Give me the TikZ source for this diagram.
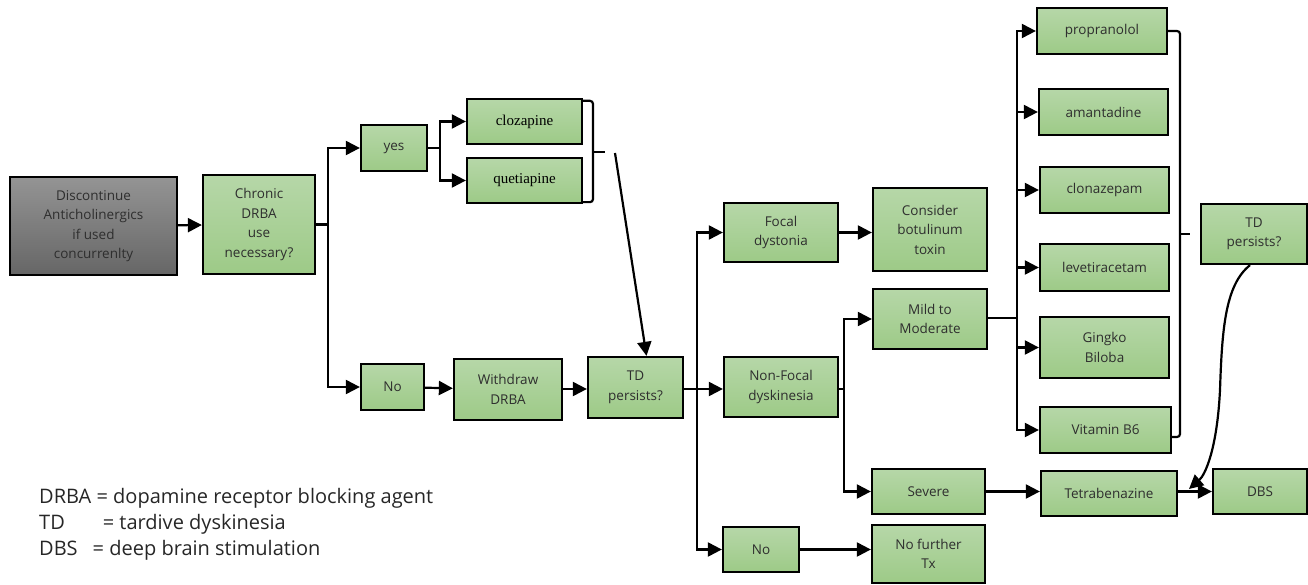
\documentclass[tikz,border=0pt]{standalone}
\usepackage{fontspec}
\setmainfont{Open Sans}
\newfontfamily\serifbox{Liberation Serif}
\usetikzlibrary{arrows.meta}

\definecolor{boxtop}{HTML}{B6D7A8}
\definecolor{boxbot}{HTML}{9DCA87}
\definecolor{greytop}{HTML}{949494}
\definecolor{greybot}{HTML}{666666}
\definecolor{txt}{HTML}{2E2E2E}

\tikzset{
  stepbox/.style={draw=black, line width=2.3pt, top color=boxtop, bottom color=boxbot,
    align=center, inner sep=2pt, font=\fontsize{13.5}{19.5}\selectfont, text=txt},
  greybox/.style={stepbox, top color=greytop, bottom color=greybot},
  drug/.style={stepbox, font=\serifbox\fontsize{15}{17}\selectfont, text=black},
  wire/.style={line width=2.2pt},
  arr/.style={wire, -{Triangle[length=14pt,width=14pt]}},
  legend/.style={anchor=base west, inner sep=0pt, font=\fontsize{20}{22}\selectfont, text=black!85},
}

\begin{document}
\begin{tikzpicture}[x=1pt,y=-1pt]
\useasboundingbox (0,0) rectangle (1308,585);

% first column
\node[greybox, minimum width=167pt, minimum height=98pt] (disc) at (93.5,226) {Discontinue\\Anticholinergics\\if used\\concurrenlty};
\node[stepbox, minimum width=112pt, minimum height=99pt] (chronic) at (259,224.5) {Chronic\\DRBA\\use\\necessary?};

% yes branch
\node[stepbox, minimum width=66pt, minimum height=46pt] (yes) at (394,148) {yes};
\node[drug, minimum width=115pt, minimum height=45pt] (cloz) at (524.5,121.5) {clozapine};
\node[drug, minimum width=115pt, minimum height=45pt] (quet) at (524.5,180.5) {quetiapine};

% no branch
\node[stepbox, minimum width=63pt, minimum height=46pt] (no1) at (392.5,387) {No};
\node[stepbox, minimum width=108pt, minimum height=61pt] (withdraw) at (508,389.5) {Withdraw\\DRBA};
\node[stepbox, minimum width=95pt, minimum height=61pt] (td1) at (635.5,387.5) {TD\\persists?};

% phenotype
\node[stepbox, minimum width=114pt, minimum height=59pt] (focal) at (781,232.5) {Focal\\dystonia};
\node[stepbox, minimum width=114pt, minimum height=83pt] (botox) at (930,229.5) {Consider\\botulinum\\toxin};
\node[stepbox, minimum width=114pt, minimum height=60pt] (nonfocal) at (781,387) {Non-Focal\\dyskinesia};
\node[stepbox, minimum width=114pt, minimum height=60pt] (mild) at (930,319) {Mild to\\Moderate};
\node[stepbox, minimum width=113pt, minimum height=45pt] (severe) at (928.5,491.5) {Severe};
\node[stepbox, minimum width=76pt, minimum height=45pt] (no2) at (761,549.5) {No};
\node[stepbox, minimum width=113pt, minimum height=58pt] (nofurther) at (928.5,554) {No further\\Tx};

% medications
\node[stepbox, minimum width=130pt, minimum height=46pt] (prop) at (1102,31) {propranolol};
\node[stepbox, minimum width=129pt, minimum height=46pt] (amant) at (1103.5,112) {amantadine};
\node[stepbox, minimum width=129pt, minimum height=46pt] (clon) at (1104.5,190) {clonazepam};
\node[stepbox, minimum width=129pt, minimum height=47pt] (leve) at (1104.5,267.5) {levetiracetam};
\node[stepbox, minimum width=129pt, minimum height=61pt] (gingko) at (1104.5,347.5) {Gingko\\Biloba};
\node[stepbox, minimum width=131pt, minimum height=46pt] (vitb6) at (1105.5,430) {Vitamin B6};
\node[stepbox, minimum width=106pt, minimum height=60pt] (td2) at (1254,234) {TD\\persists?};

% escalation
\node[stepbox, minimum width=136pt, minimum height=45pt] (tetra) at (1109,493.5) {Tetrabenazine};
\node[stepbox, minimum width=94pt, minimum height=45pt] (dbs) at (1260,491.5) {DBS};

% junction points
\coordinate (j1) at (328,224.5);
\coordinate (j2) at (440,148);
\coordinate (j3) at (697,389);
\coordinate (j4) at (844,389);
\coordinate (j5) at (1017,318);
\coordinate (bt1) at (593,152);
\coordinate (bt1e) at (605,152);
\coordinate (tdin) at (615,153);
\coordinate (bt2) at (1180,234);
\coordinate (bt2e) at (1190,234);
\coordinate (tip) at (1189,489);

% connectors
\draw[arr] (disc) -- (chronic);
\draw[wire] (chronic.east) -- (j1);
\draw[arr] (j1) |- (yes.west);
\draw[arr] (j1) |- (no1.west);
\draw[wire] (yes.east) -- (j2);
\draw[arr] (j2) |- (cloz.west);
\draw[arr] (j2) |- (quet.west);
\draw[arr] (no1) -- (withdraw);
\draw[arr] (withdraw.east |- 0,389) -- (td1.west |- 0,389);

% brace after the antipsychotic options
\draw[wire, rounded corners=3pt] ([yshift=-3pt]cloz.north east) -| (bt1) |- ([yshift=2pt]quet.south east);
\draw[wire] (bt1) -- (bt1e);
\draw[arr] (tdin) -- ([xshift=11pt]td1.north);

\draw[arr] (td1.east |- j3) -- (nonfocal.west |- j3);
\draw[arr] (j3) |- (focal.west);
\draw[arr] (j3) |- (no2.west);
\draw[arr] (focal) -- (botox.west |- focal);
\draw[wire] (nonfocal.east |- j4) -- (j4);
\draw[arr] (j4) |- (mild.west);
\draw[arr] (j4) |- (severe.west);
\draw[arr] (no2.east) -- (nofurther.west |- no2.east);

\draw[wire] (mild.east |- j5) -- (j5);
\draw[arr] (j5) |- (prop.west);
\draw[arr] (j5) |- (amant.west);
\draw[arr] (j5) |- (clon.west);
\draw[arr] (j5) |- (leve.west);
\draw[arr] (j5) |- (gingko.west);
\draw[arr] (j5) |- (vitb6.west);

% brace after the medication options
\draw[wire, rounded corners=3pt] (prop.east) -| (bt2) |- ([yshift=-7pt]vitb6.east);
\draw[wire] (bt2) -- (bt2e);

\draw[arr] (severe) -- (tetra.west |- severe);
\draw[arr] (tetra.east |- dbs) -- (dbs.west);
\draw[arr] ([xshift=-4pt]td2.south) .. controls (1225,285) and (1222,330) .. (1220,390)
   .. controls (1217,450) and (1205,475) .. (tip);

% abbreviations
\node[legend] (l1) at (39,503) {DRBA = dopamine receptor blocking agent};
\node[legend] (l2) at (39,529) {TD\hspace{1.9em}= tardive dyskinesia};
\node[legend] (l3) at (39,555) {DBS\hspace{0.75em}= deep brain stimulation};
\end{tikzpicture}
\end{document}
